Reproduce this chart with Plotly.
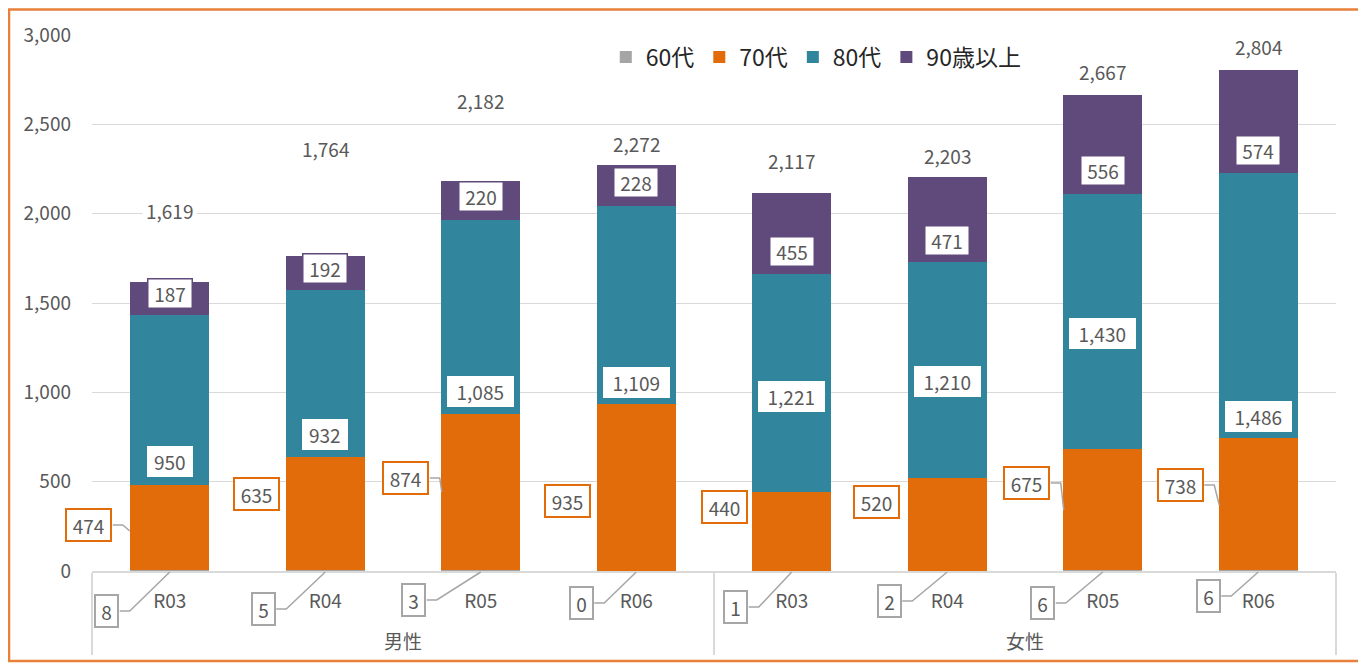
import plotly.graph_objects as go

# ---------------- data ----------------
groups = ["男性"] * 4 + ["女性"] * 4
years = ["R03", "R04", "R05", "R06"] * 2
age60 = [8, 5, 3, 0, 1, 2, 6, 6]
age70 = [474, 635, 874, 935, 440, 520, 675, 738]
age80 = [950, 932, 1085, 1109, 1221, 1210, 1430, 1486]
age90 = [187, 192, 220, 228, 455, 471, 556, 574]
totals = [1619, 1764, 2182, 2272, 2117, 2203, 2667, 2804]
series_names = ["60代", "70代", "80代", "90歳以上"]
y_ticks = [0, 500, 1000, 1500, 2000, 2500, 3000]

# ---------------- styles / label placement ----------------
colors = ["#A5A5A5", "#E36C0A", "#31859C", "#604A7B"]
text_col = "#595959"
grid_col = "#D9D9D9"
FONT = "Noto Sans CJK JP, Noto Sans, sans-serif"
NUM = 19

# label box placement (pixel offsets from bar centre at the axis)
lab70_off = [(-81, 46), (-69, 77), (-75, 93), (-69, 70), (-67, 64), (-71, 69), (-76, 88), (-78, 86)]
lab70_leader = [(-40, 40), None, (-39, 79), None, None, None, (-39, 61), (-39, 66)]
lab60_off = [(-63, -40), (-62, -38), (-67, -29), (-55, -32), (-56, -36), (-58, -30), (-60, -32), (-50, -25)]
# position of value boxes inside segments (fraction of segment)
frac80 = [0.135, 0.136, 0.12, 0.11, 0.44, 0.443, 0.455, 0.083]
frac90 = [0.66, 0.645, 0.6, 0.58, 0.28, 0.245, 0.23, 0.22]
total_off = [396, 598, 449, 123, 178, 120, 126, 129]

# first-level tick text gets an empty second line so the group labels sit lower
year_ticks = [y + "<br> " for y in years]

fig = go.Figure()
for name, vals, col in zip(series_names, [age60, age70, age80, age90], colors):
    fig.add_trace(go.Bar(x=[groups, year_ticks], y=vals, name=name, marker_color=col,
                         marker_line_width=0, hoverinfo="y+name"))

ann = []
shapes = []
n = len(years)
for i in range(n):
    # 60s callouts below axis
    dx, dy = lab60_off[i]
    ann.append(dict(x=i, y=0, xref="x", yref="y", text=str(age60[i]), showarrow=False,
                    xshift=dx, yshift=dy, width=21, height=30, borderpad=0,
                    bordercolor="#A6A6A6", borderwidth=2, bgcolor="white",
                    font=dict(size=NUM, color=text_col, family=FONT)))
    shapes.append(dict(type="path", xref="x", yref="paper", xsizemode="pixel", ysizemode="pixel",
                       xanchor=i, yanchor=0,
                       path=f"M {dx+13},{dy} L {dx+23},{dy} L 0,-1",
                       line=dict(color="#A6A6A6", width=1.5)))
    # 70s callouts
    dx, dy = lab70_off[i]
    ann.append(dict(x=i, y=0, xref="x", yref="y", text=str(age70[i]), showarrow=False,
                    xshift=dx, yshift=dy, width=43, height=30, borderpad=0,
                    bordercolor=colors[1], borderwidth=2, bgcolor="white",
                    font=dict(size=NUM, color=text_col, family=FONT)))
    if lab70_leader[i] is not None:
        ex, ey = lab70_leader[i]
        shapes.append(dict(type="path", xref="x", yref="y", xsizemode="pixel", ysizemode="pixel",
                           xanchor=i, yanchor=0,
                           path=f"M {dx+24},{dy} L {dx+34},{dy} L {ex},{ey}",
                           line=dict(color="#A6A6A6", width=1.5)))
    # 80s labels
    base80 = age60[i] + age70[i]
    t80 = f"{age80[i]:,}"
    ann.append(dict(x=i, y=base80 + frac80[i] * age80[i], xref="x", yref="y", text=t80,
                    showarrow=False, width=14 + 10.5 * len(t80), height=31, borderpad=0,
                    bgcolor="white", borderwidth=0,
                    font=dict(size=NUM, color=text_col, family=FONT)))
    # 90+ labels
    base90 = base80 + age80[i]
    ann.append(dict(x=i, y=base90 + frac90[i] * age90[i], xref="x", yref="y", text=str(age90[i]),
                    showarrow=False, width=43, height=28, borderpad=0,
                    bgcolor="white", bordercolor=colors[3], borderwidth=1.5,
                    font=dict(size=NUM, color=text_col, family=FONT)))
    # totals
    ann.append(dict(x=i, y=totals[i] + total_off[i], xref="x", yref="y", text=f"{totals[i]:,}",
                    showarrow=False, bgcolor="white", borderpad=3,
                    font=dict(size=NUM, color=text_col, family=FONT)))

# orange frame round the whole chart
shapes.append(dict(type="rect", xref="paper", yref="paper", x0=-0.0667, x1=1.0193,
                   y0=-0.1679, y1=1.0476, line=dict(color="#E8803A", width=2.5), layer="above"))

fig.update_layout(
    width=1366, height=664,
    margin=dict(l=84, r=38, t=27, b=101),
    barmode="stack", bargap=0.49,
    paper_bgcolor="white", plot_bgcolor="white",
    font=dict(family=FONT, size=NUM, color=text_col),
    showlegend=True,
    legend=dict(orientation="h", x=0.413, y=0.959, xanchor="left", yanchor="middle",
                traceorder="normal", bgcolor="rgba(0,0,0,0)",
                font=dict(size=23, color="#262626", family=FONT)),
    annotations=ann, shapes=shapes,
)
fig.update_yaxes(range=[0, 3000], tickvals=y_ticks, tickformat=",", showgrid=True,
                 gridcolor=grid_col, gridwidth=1.3, zeroline=False, showline=False,
                 ticklabelstandoff=20, tickfont=dict(size=NUM, color=text_col))
fig.update_xaxes(type="multicategory", range=[-0.5, 7.5], showline=True, linecolor=grid_col,
                 linewidth=1.5, showdividers=True, dividercolor=grid_col, dividerwidth=1.5,
                 ticklabelstandoff=12, tickfont=dict(size=19, color=text_col))

fig.write_html("out.html")
